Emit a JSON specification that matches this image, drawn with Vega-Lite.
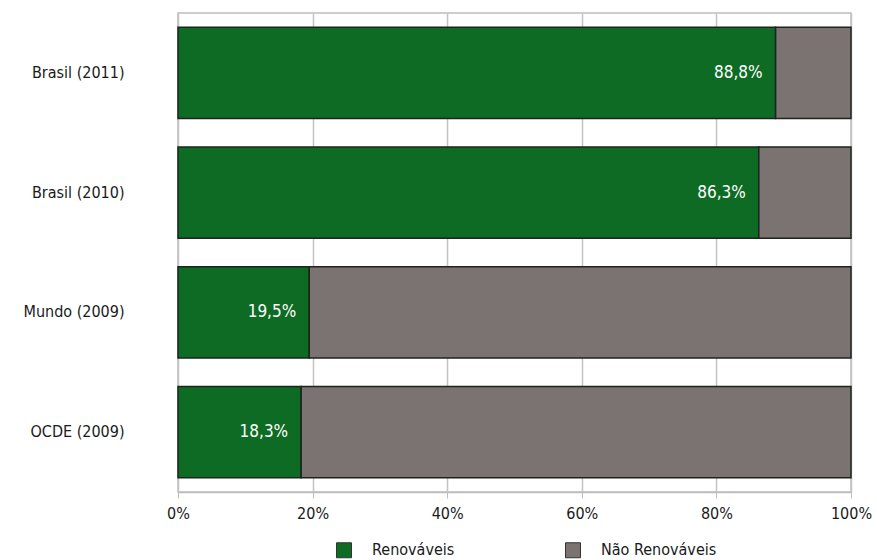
{
  "$schema": "https://vega.github.io/schema/vega-lite/v6.json",
  "width": 673,
  "height": 479,
  "autosize": {"type": "none"},
  "padding": {"left": 178, "top": 13, "right": 26, "bottom": 68},
  "background": "white",
  "config": {
    "font": "DejaVu Sans Condensed, DejaVu Sans",
    "view": {"stroke": "#bdbdbd", "strokeWidth": 1.5}
  },
  "data": {
    "values": [
      {"regiao": "Brasil (2011)", "tipo": "Renováveis", "valor": 88.8, "rotulo": "88,8%"},
      {"regiao": "Brasil (2011)", "tipo": "Não Renováveis", "valor": 11.2, "rotulo": ""},
      {"regiao": "Brasil (2010)", "tipo": "Renováveis", "valor": 86.3, "rotulo": "86,3%"},
      {"regiao": "Brasil (2010)", "tipo": "Não Renováveis", "valor": 13.7, "rotulo": ""},
      {"regiao": "Mundo (2009)", "tipo": "Renováveis", "valor": 19.5, "rotulo": "19,5%"},
      {"regiao": "Mundo (2009)", "tipo": "Não Renováveis", "valor": 80.5, "rotulo": ""},
      {"regiao": "OCDE (2009)", "tipo": "Renováveis", "valor": 18.3, "rotulo": "18,3%"},
      {"regiao": "OCDE (2009)", "tipo": "Não Renováveis", "valor": 81.7, "rotulo": ""}
    ]
  },
  "encoding": {
    "y": {
      "field": "regiao",
      "type": "nominal",
      "sort": ["Brasil (2011)", "Brasil (2010)", "Mundo (2009)", "OCDE (2009)"],
      "scale": {"paddingInner": 0.24, "paddingOuter": 0.12},
      "axis": {
        "title": null,
        "domain": false,
        "ticks": false,
        "labelPadding": 54,
        "labelFontSize": 16,
        "labelColor": "#1a1a1a"
      }
    }
  },
  "layer": [
    {
      "mark": {"type": "bar", "stroke": "#1c241c", "strokeWidth": 1.5},
      "encoding": {
        "x": {
          "field": "valor",
          "type": "quantitative",
          "stack": "zero",
          "scale": {"domain": [0, 100], "nice": false},
          "axis": {
            "title": null,
            "values": [0, 20, 40, 60, 80, 100],
            "labelExpr": "datum.value + '%'",
            "grid": true,
            "gridColor": "#c4c4c4",
            "gridWidth": 1.5,
            "domain": true,
            "domainColor": "#bdbdbd",
            "domainWidth": 1.5,
            "tickColor": "#bdbdbd",
            "tickSize": 6,
            "labelFontSize": 16,
            "labelColor": "#1a1a1a",
            "labelPadding": 7,
            "labelFlush": false
          }
        },
        "color": {
          "field": "tipo",
          "type": "nominal",
          "sort": ["Renováveis", "Não Renováveis"],
          "scale": {"domain": ["Renováveis", "Não Renováveis"], "range": ["#0d6b24", "#7b7272"]},
          "legend": {
            "title": null,
            "orient": "none",
            "direction": "horizontal",
            "legendX": 158,
            "legendY": 529,
            "symbolType": "square",
            "symbolSize": 225,
            "symbolStrokeColor": "#333333",
            "symbolStrokeWidth": 1,
            "labelFontSize": 16,
            "labelColor": "#1a1a1a",
            "labelOffset": 20,
            "columnPadding": 108
          }
        },
        "order": {"field": "tipo", "sort": "descending"}
      }
    },
    {
      "transform": [{"filter": "datum.tipo === 'Renováveis'"}],
      "mark": {"type": "text", "align": "right", "baseline": "middle", "dx": -13, "color": "white", "fontSize": 17},
      "encoding": {
        "x": {"field": "valor", "type": "quantitative"},
        "text": {"field": "rotulo"}
      }
    }
  ]
}
